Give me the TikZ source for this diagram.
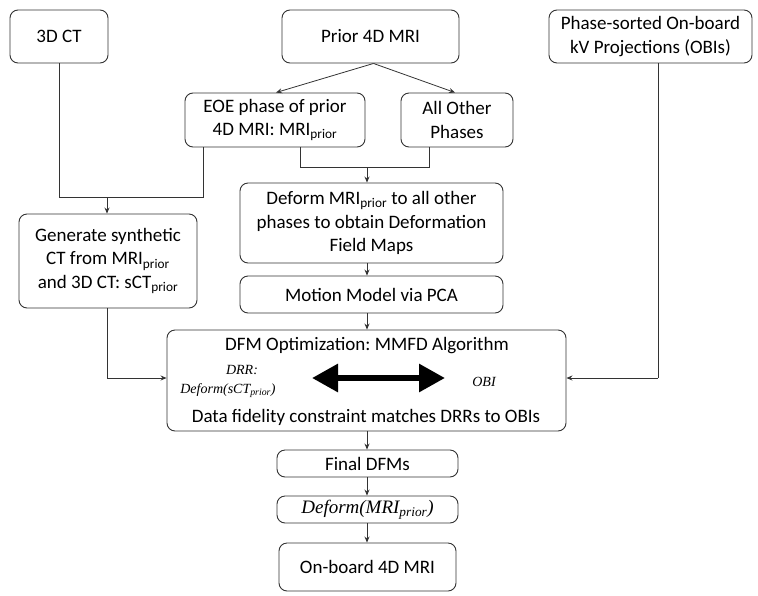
\documentclass[tikz,border=0pt]{standalone}
\usepackage{fontspec}
\setmainfont{Carlito}
\newfontfamily\tms{Liberation Serif}
\usetikzlibrary{arrows.meta}
\definecolor{ln}{HTML}{333333}
\frenchspacing
\tikzset{
  box/.style={draw=ln, line width=0.9pt, rounded corners=8pt, align=center, inner sep=2pt,
    font=\frenchspacing\fontsize{19}{23.5}\selectfont},
  lbl/.style={inner sep=0pt, align=center, font=\frenchspacing\fontsize{19}{23.5}\selectfont},
  itl/.style={inner sep=0pt, align=center, font=\tms\itshape\fontsize{14}{17}\selectfont},
  arr/.style={draw=ln, line width=0.8pt, -{Stealth[length=6pt,width=5pt]}},
  ln/.style={draw=ln, line width=0.8pt},
}
\begin{document}
\begin{tikzpicture}[x=1pt,y=-1pt]
\useasboundingbox (0,0) rectangle (758,595);
% boxes
\node[box, minimum width=98pt, minimum height=53pt] (ct) at (59,36.5) {3D CT};
\node[box, minimum width=177pt, minimum height=53pt] (prior) at (370.5,36.5) {Prior 4D MRI};
\node[box, minimum width=203pt, minimum height=53pt] (obis) at (650.5,36.5) {Phase-sorted On-board\\kV Projections (OBIs)};
\node[box, minimum width=180pt, minimum height=54pt] (eoe) at (275,120) {EOE phase of prior\\4D MRI: MRI\textsubscript{prior}};
\node[box, minimum width=112pt, minimum height=54pt] (other) at (457,120) {All Other\\Phases};
\node[box, minimum width=178pt, minimum height=94pt] (gen) at (108,261) {Generate synthetic\\CT from MRI\textsubscript{prior}\\and 3D CT: sCT\textsubscript{prior}};
\node[box, minimum width=263pt, minimum height=80pt] (deform) at (371.5,223) {Deform MRI\textsubscript{prior} to all other\\phases to obtain Deformation\\Field Maps};
\node[box, minimum width=263pt, minimum height=37pt] (motion) at (371.5,294.5) {Motion Model via PCA};
\node[box, minimum width=399pt, minimum height=101pt] (dfm) at (366.5,380.5) {};
\node[lbl] (dfmtitle) at (367,346) {DFM Optimization: MMFD Algorithm};
\node[itl] (drr) at (242,370) {DRR:};
\node[itl] (dsct) at (228,391) {Deform(sCT\textsubscript{prior})};
\node[itl] (obi) at (484,382) {OBI};
\node[lbl] (fid) at (366,417) {Data fidelity constraint matches DRRs to OBIs};
\node[box, minimum width=181pt, minimum height=27pt] (final) at (367.5,463.5) {Final DFMs};
\node[box, minimum width=181pt, minimum height=27pt, font=\tms\itshape\fontsize{19}{22}\selectfont] (defmri) at (367.5,509.5) {Deform(MRI\textsubscript{prior})};
\node[box, minimum width=177pt, minimum height=48pt] (onboard) at (367.5,567) {On-board 4D MRI};
% double arrow
\coordinate (dl) at (312,378);
\coordinate (dr) at (445,378);
\draw[line width=6pt, {Triangle[length=26pt,width=27pt]}-{Triangle[length=26pt,width=27pt]}] (dl) -- (dr);
% connectors
\draw[arr] ([xshift=3pt]prior.south) -- ([xshift=1pt]eoe.north);
\draw[arr] ([xshift=3pt]prior.south) -- ([xshift=-2pt]other.north);
\coordinate (j1) at (203,197);
\draw[ln] (ct.south) |- (j1) -- (j1 |- eoe.south);
\draw[arr] ([xshift=-1pt]gen.north |- j1) -- ([xshift=-1pt]gen.north);
\coordinate (j2) at (300,167);
\coordinate (j3) at (429,167);
\coordinate (j4) at (367,167);
\draw[ln] (j2 |- eoe.south) -- (j2) -- (j3) -- (j3 |- other.south);
\draw[arr] (j4) -- (j4 |- deform.north);
\draw[arr] (j4 |- deform.south) -- (j4 |- motion.north);
\draw[arr] (j4 |- motion.south) -- (j4 |- dfm.north);
\coordinate (jl) at (107,378);
\coordinate (jr) at (658,378);
\draw[ln] ([xshift=-1pt]gen.south) -- (jl);
\draw[arr] (jl) -- (jl -| dfm.west);
\draw[ln] (jr |- obis.south) -- (jr);
\draw[arr] (jr) -- (jr -| dfm.east);
\draw[arr] (j4 |- dfm.south) -- (j4 |- final.north);
\draw[arr] (j4 |- final.south) -- (j4 |- defmri.north);
\draw[arr] (j4 |- defmri.south) -- (j4 |- onboard.north);
\end{tikzpicture}
\end{document}
